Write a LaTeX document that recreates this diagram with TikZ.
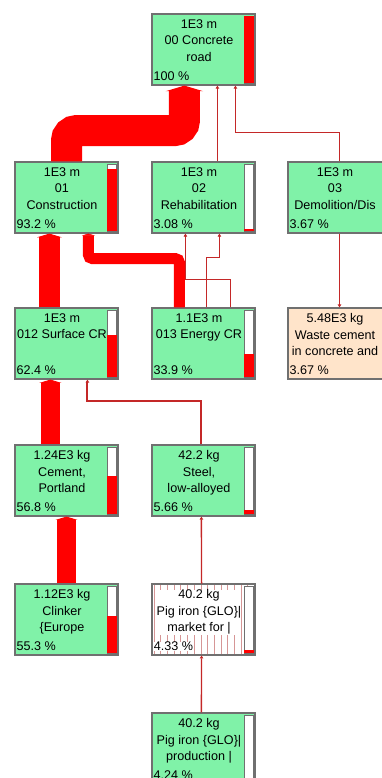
\documentclass[tikz,border=0pt]{standalone}
\usepackage{fontspec}
\setmainfont{Liberation Sans}
\usetikzlibrary{arrows.meta,patterns.meta}
\definecolor{procgreen}{RGB}{128,242,168}
\definecolor{wastepeach}{RGB}{255,228,202}
\definecolor{boxgray}{RGB}{112,112,112}
\definecolor{thinred}{RGB}{196,40,40}
\definecolor{stripe}{RGB}{214,150,150}

\begin{document}
\begin{tikzpicture}[x=1pt,y=-1pt,
    font=\fontsize{12.6}{16.5}\selectfont,
    proc/.style={rectangle,draw=boxgray,line width=1.2pt,fill=procgreen,
      minimum width=103pt,minimum height=71pt,inner sep=0pt},
    lines/.style={anchor=north,align=center,inner sep=0pt,xshift=-4.5pt,yshift=-6pt},
    pct/.style={anchor=south west,inner sep=0pt,xshift=2pt,yshift=4.5pt},
    bar/.style={path picture={
      \draw[boxgray,fill=white,line width=0.6pt]
        ([xshift=-11pt,yshift=-2pt]path picture bounding box.north east) rectangle
        ([xshift=-1.5pt,yshift=2pt]path picture bounding box.south east);
      \fill[red]
        ([xshift=-11pt,yshift=2pt]path picture bounding box.south east) rectangle
        ([xshift=-1.5pt,yshift={2pt+#1*67pt}]path picture bounding box.south east);}}]
  \useasboundingbox (0,0) rectangle (381,778);

  % process boxes
  \node[proc,bar=1,label={[lines]north:1E3 m\\00 Concrete\\road},
    label={[pct]south west:100 \%}] (road) at (203.5,49.5) {};
  \node[proc,bar=0.932,label={[lines]north:1E3 m\\01\\Construction},
    label={[pct]south west:93.2 \%}] (constr) at (66.5,197.5) {};
  \node[proc,bar=0.0308,label={[lines]north:1E3 m\\02\\Rehabilitation},
    label={[pct]south west:3.08 \%}] (rehab) at (203.5,197.5) {};
  \node[proc,label={[lines]north:1E3 m\\03\\Demolition/Dis},
    label={[pct]south west:3.67 \%}] (demol) at (339.5,197.5) {};
  \node[proc,bar=0.624,label={[lines]north:1E3 m\\012 Surface CR},
    label={[pct]south west:62.4 \%}] (surface) at (66.5,343.5) {};
  \node[proc,bar=0.339,label={[lines]north:1.1E3 m\\013 Energy CR},
    label={[pct]south west:33.9 \%}] (energy) at (203.5,343.5) {};
  \node[proc,fill=wastepeach,label={[lines]north:5.48E3 kg\\Waste cement\\in concrete and},
    label={[pct]south west:3.67 \%}] (waste) at (339.5,343.5) {};
  \node[proc,bar=0.568,label={[lines]north:1.24E3 kg\\Cement,\\Portland},
    label={[pct]south west:56.8 \%}] (cement) at (66.5,480.5) {};
  \node[proc,bar=0.0566,label={[lines]north:42.2 kg\\Steel,\\low-alloyed},
    label={[pct]south west:5.66 \%}] (steel) at (203.5,480.5) {};
  \node[proc,bar=0.553,label={[lines]north:1.12E3 kg\\Clinker\\\{Europe},
    label={[pct]south west:55.3 \%}] (clinker) at (66.5,619.5) {};
  \node[proc,fill=white,pattern={Lines[angle=90,distance=6.7pt,line width=0.9pt]},
    pattern color=stripe,bar=0.0433,
    label={[lines,fill=white]north:40.2 kg\\Pig iron \{GLO\}|\\market for |},
    label={[pct,fill=white]south west:4.33 \%}] (pigmkt) at (203.5,619.5) {};
  \node[proc,bar=0.0424,label={[lines]north:40.2 kg\\Pig iron \{GLO\}|\\production |},
    label={[pct]south west:4.24 \%}] (pigprod) at (203.5,748.5) {};

  % flows
  \begin{scope}[flow/.style={draw=red,-{Triangle[length=0pt 0.18,width=0pt 1.2]}},
      thinflow/.style={draw=thinred,-{Triangle[length=3pt,width=3.5pt]}}]
    \draw[flow,line width=31pt,rounded corners=10pt] (constr.north)
      |- ([xshift=33pt,yshift=-45pt]road.south west) -- ([xshift=33pt]road.south west);
    \draw[flow,line width=20.5pt] ([xshift=35pt]surface.north west) -- ([xshift=35pt]constr.south west);
    \draw[flow,line width=11pt,rounded corners=4pt] ([xshift=28pt]energy.north west)
      |- ([xshift=74pt,yshift=-25pt]constr.south west) -- ([xshift=74pt]constr.south west);
    \draw[flow,line width=18.7pt] ([xshift=36pt]cement.north west) -- ([xshift=36pt]surface.south west);
    \draw[flow,line width=18.2pt] (clinker.north) -- (cement.south);

    \draw[thinflow,line width=1pt] ([xshift=66pt]rehab.north west) -- ([xshift=66pt]road.south west);
    \draw[thinflow,line width=1.2pt] (demol.north)
      |- ([xshift=84pt,yshift=-47pt]road.south west) -- ([xshift=84pt]road.south west);
    \draw[thinflow,line width=1.2pt] (demol.south) -- (waste.north);
    \draw[thinflow,line width=0.6pt] ([xshift=55pt]energy.north west)
      |- ([xshift=68pt,yshift=-24pt]rehab.south west) -- ([xshift=68pt]rehab.south west);
    \draw[thinflow,line width=0.6pt] ([xshift=79pt]energy.north west)
      |- ([xshift=34pt,yshift=-46pt]rehab.south west) -- ([xshift=34pt]rehab.south west);
    \draw[thinflow,line width=1.9pt] ([xshift=50pt]steel.north west)
      |- ([xshift=73pt,yshift=-21pt]surface.south west) -- ([xshift=73pt]surface.south west);
    \draw[thinflow,line width=1.4pt] ([xshift=50pt]pigmkt.north west) -- ([xshift=50pt]steel.south west);
    \draw[thinflow,line width=1.4pt] ([xshift=50pt]pigprod.north west) -- ([xshift=50pt]pigmkt.south west);
  \end{scope}
\end{tikzpicture}
\end{document}
